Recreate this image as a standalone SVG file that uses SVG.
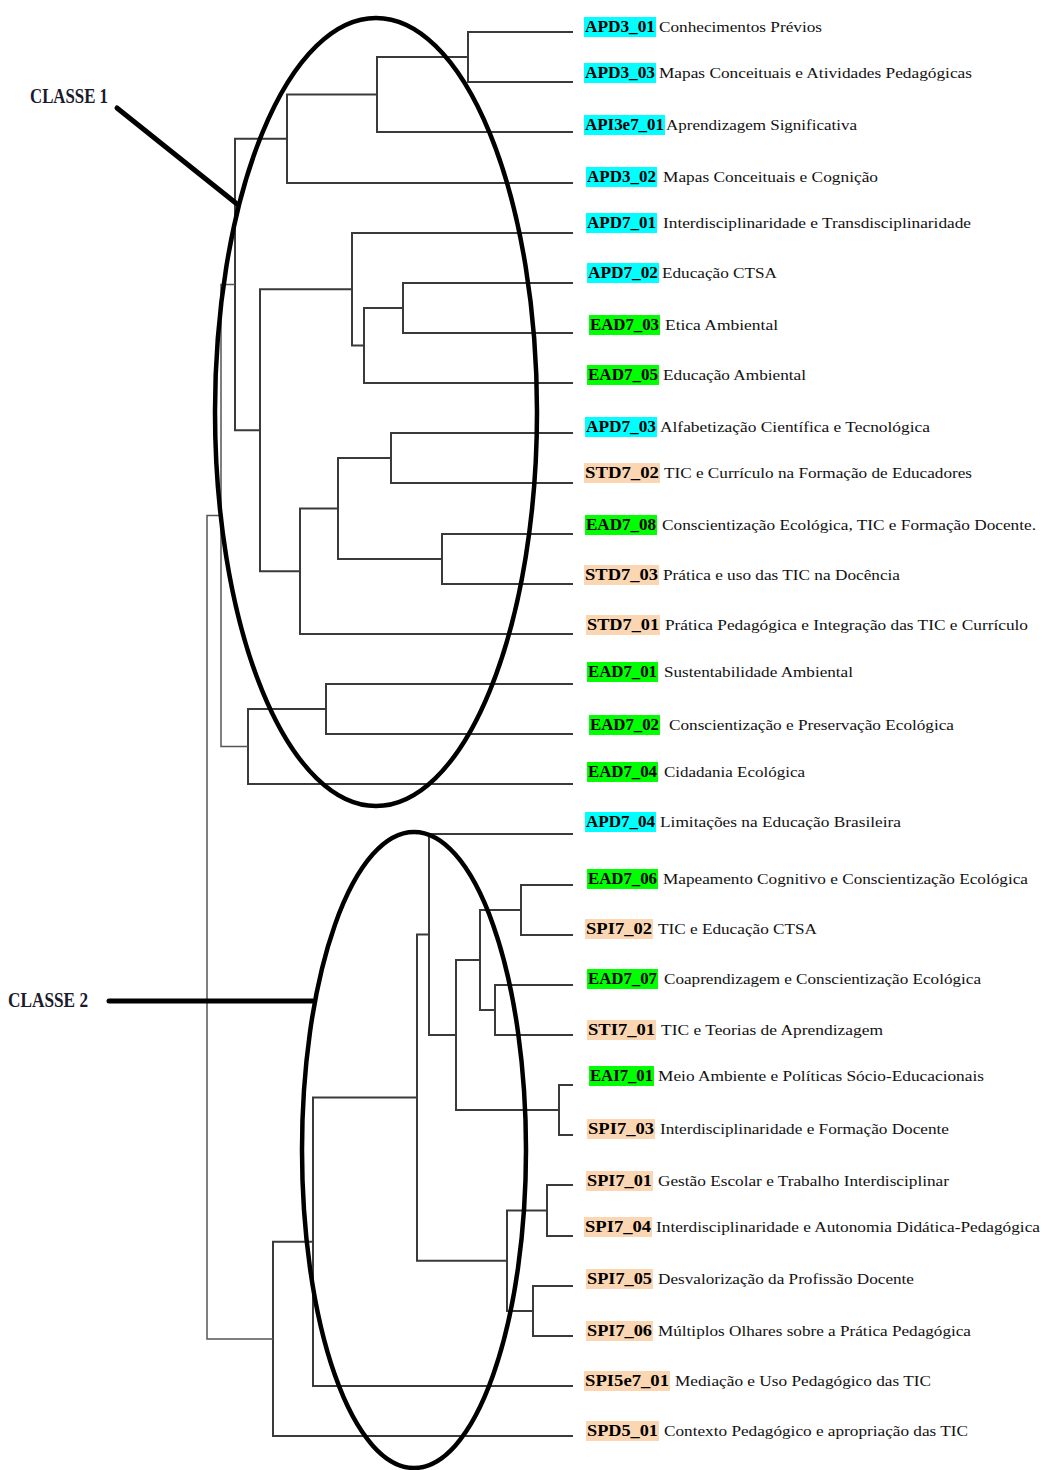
<svg xmlns="http://www.w3.org/2000/svg" width="1043" height="1470" viewBox="0 0 1043 1470">
  <style>
    .br { fill: none; stroke: #3a3a3a; stroke-width: 2; stroke-linecap: square; }
    .br2 { fill: none; stroke: #555; stroke-width: 1.5; }
    .cls { fill: none; stroke: #000; stroke-width: 4.5; }
    .ptr { fill: none; stroke: #000; stroke-width: 5; stroke-linecap: round; }
    .code { font-family: "Liberation Serif", "Times New Roman", serif; font-weight: bold; font-size: 16px; fill: #000; }
    .desc { font-family: "Liberation Serif", "Times New Roman", serif; font-size: 15.5px; fill: #111; }
    .ttl { font-family: "Liberation Serif", "Times New Roman", serif; font-weight: bold; font-size: 22px; fill: #1a1a2a; }
    .cy { fill: #00ffff; }
    .gr { fill: #00ff00; }
    .pe { fill: #fbd6b3; }
  </style>

  <!-- dendrogram branches: each path is one merge bracket -->
  <g id="connectors">
    <path class="br" d="M572 32 H468 V82 H572"/>
    <path class="br" d="M468 57 H377 V132 H572"/>
    <path class="br" d="M377 94.5 H287 V183 H572"/>
    <path class="br" d="M572 283 H403 V333 H572"/>
    <path class="br" d="M403 308 H364 V383 H572"/>
    <path class="br" d="M572 233 H352 V345.5 H364"/>
    <path class="br" d="M572 433 H391 V483 H572"/>
    <path class="br" d="M572 534 H442 V584 H572"/>
    <path class="br" d="M391 458 H338 V559 H442"/>
    <path class="br" d="M338 508.5 H300 V634 H572"/>
    <path class="br" d="M352 289.25 H260 V571.25 H300"/>
    <path class="br" d="M287 138.75 H235 V430.25 H260"/>
    <path class="br" d="M572 684 H326 V734 H572"/>
    <path class="br" d="M326 709 H248 V784 H572"/>
    <path class="br2" d="M235 284.5 H221 V746.5 H248"/>
    <path class="br" d="M572 885 H521 V935 H572"/>
    <path class="br" d="M572 985 H495 V1035 H572"/>
    <path class="br" d="M521 910 H480 V1010 H495"/>
    <path class="br" d="M572 1085 H559 V1135 H572"/>
    <path class="br" d="M480 960 H456 V1110 H559"/>
    <path class="br" d="M572 834 H429 V1035 H456"/>
    <path class="br" d="M572 1185 H547 V1236 H572"/>
    <path class="br" d="M572 1286 H533 V1336 H572"/>
    <path class="br" d="M547 1210.5 H507 V1311 H533"/>
    <path class="br" d="M429 934.5 H417 V1260.75 H507"/>
    <path class="br" d="M417 1097.6 H313 V1386 H572"/>
    <path class="br" d="M313 1241.8 H273 V1436 H572"/>
    <path class="br2" d="M221 515.5 H207 V1338.9 H273"/>
  </g>

  <!-- class outlines and their pointers -->
  <g id="classe1">
    <ellipse class="cls" cx="376" cy="412" rx="161" ry="394"/>
    <path class="ptr" d="M117 108 L237 204"/>
    <text class="ttl" x="30" y="103" textLength="78" lengthAdjust="spacingAndGlyphs">CLASSE 1</text>
  </g>
  <g id="classe2">
    <ellipse class="cls" cx="414" cy="1150" rx="112" ry="318"/>
    <path class="ptr" d="M109 1001 H314"/>
    <text class="ttl" x="8" y="1007" textLength="80" lengthAdjust="spacingAndGlyphs">CLASSE 2</text>
  </g>

  <!-- leaf labels -->
  <g id="APD3_01"><rect class="cy" x="584" y="17" width="72" height="20"/><text class="code" x="585" y="32" textLength="70" lengthAdjust="spacingAndGlyphs">APD3_01</text><text class="desc" x="659" y="32" textLength="163" lengthAdjust="spacingAndGlyphs">Conhecimentos Prévios</text></g>
  <g id="APD3_03"><rect class="cy" x="584" y="63" width="72" height="20"/><text class="code" x="585" y="78" textLength="70" lengthAdjust="spacingAndGlyphs">APD3_03</text><text class="desc" x="659" y="78" textLength="313" lengthAdjust="spacingAndGlyphs">Mapas Conceituais e Atividades Pedagógicas</text></g>
  <g id="API3e7_01"><rect class="cy" x="584" y="115" width="81" height="20"/><text class="code" x="585" y="130" textLength="79" lengthAdjust="spacingAndGlyphs">API3e7_01</text><text class="desc" x="666" y="130" textLength="191" lengthAdjust="spacingAndGlyphs">Aprendizagem Significativa</text></g>
  <g id="APD3_02"><rect class="cy" x="586" y="167" width="71" height="20"/><text class="code" x="587" y="182" textLength="69" lengthAdjust="spacingAndGlyphs">APD3_02</text><text class="desc" x="663" y="182" textLength="215" lengthAdjust="spacingAndGlyphs">Mapas Conceituais e Cognição</text></g>
  <g id="APD7_01"><rect class="cy" x="586" y="213" width="71" height="20"/><text class="code" x="587" y="228" textLength="69" lengthAdjust="spacingAndGlyphs">APD7_01</text><text class="desc" x="663" y="228" textLength="308" lengthAdjust="spacingAndGlyphs">Interdisciplinaridade e Transdisciplinaridade</text></g>
  <g id="APD7_02"><rect class="cy" x="587" y="263" width="72" height="20"/><text class="code" x="588" y="278" textLength="70" lengthAdjust="spacingAndGlyphs">APD7_02</text><text class="desc" x="662" y="278" textLength="115" lengthAdjust="spacingAndGlyphs">Educação CTSA</text></g>
  <g id="EAD7_03"><rect class="gr" x="589" y="315" width="71" height="20"/><text class="code" x="590" y="330" textLength="69" lengthAdjust="spacingAndGlyphs">EAD7_03</text><text class="desc" x="665" y="330" textLength="113" lengthAdjust="spacingAndGlyphs">Etica Ambiental</text></g>
  <g id="EAD7_05"><rect class="gr" x="587" y="365" width="72" height="20"/><text class="code" x="588" y="380" textLength="70" lengthAdjust="spacingAndGlyphs">EAD7_05</text><text class="desc" x="663" y="380" textLength="143" lengthAdjust="spacingAndGlyphs">Educação Ambiental</text></g>
  <g id="APD7_03"><rect class="cy" x="585" y="417" width="72" height="20"/><text class="code" x="586" y="432" textLength="70" lengthAdjust="spacingAndGlyphs">APD7_03</text><text class="desc" x="660" y="432" textLength="270" lengthAdjust="spacingAndGlyphs">Alfabetização Científica e Tecnológica</text></g>
  <g id="STD7_02"><rect class="pe" x="584" y="463" width="76" height="20"/><text class="code" x="585" y="478" textLength="74" lengthAdjust="spacingAndGlyphs">STD7_02</text><text class="desc" x="664" y="478" textLength="308" lengthAdjust="spacingAndGlyphs">TIC e Currículo na Formação de Educadores</text></g>
  <g id="EAD7_08"><rect class="gr" x="585" y="515" width="72" height="20"/><text class="code" x="586" y="530" textLength="70" lengthAdjust="spacingAndGlyphs">EAD7_08</text><text class="desc" x="662" y="530" textLength="374" lengthAdjust="spacingAndGlyphs">Conscientização Ecológica, TIC e Formação Docente.</text></g>
  <g id="STD7_03"><rect class="pe" x="584" y="565" width="75" height="20"/><text class="code" x="585" y="580" textLength="73" lengthAdjust="spacingAndGlyphs">STD7_03</text><text class="desc" x="663" y="580" textLength="237" lengthAdjust="spacingAndGlyphs">Prática e uso das TIC na Docência</text></g>
  <g id="STD7_01"><rect class="pe" x="586" y="615" width="74" height="20"/><text class="code" x="587" y="630" textLength="72" lengthAdjust="spacingAndGlyphs">STD7_01</text><text class="desc" x="665" y="630" textLength="363" lengthAdjust="spacingAndGlyphs">Prática Pedagógica e Integração das TIC e Currículo</text></g>
  <g id="EAD7_01"><rect class="gr" x="587" y="662" width="71" height="20"/><text class="code" x="588" y="677" textLength="69" lengthAdjust="spacingAndGlyphs">EAD7_01</text><text class="desc" x="664" y="677" textLength="189" lengthAdjust="spacingAndGlyphs">Sustentabilidade Ambiental</text></g>
  <g id="EAD7_02"><rect class="gr" x="589" y="715" width="71" height="20"/><text class="code" x="590" y="730" textLength="69" lengthAdjust="spacingAndGlyphs">EAD7_02</text><text class="desc" x="669" y="730" textLength="285" lengthAdjust="spacingAndGlyphs">Conscientização e Preservação Ecológica</text></g>
  <g id="EAD7_04"><rect class="gr" x="587" y="762" width="71" height="20"/><text class="code" x="588" y="777" textLength="69" lengthAdjust="spacingAndGlyphs">EAD7_04</text><text class="desc" x="664" y="777" textLength="141" lengthAdjust="spacingAndGlyphs">Cidadania Ecológica</text></g>
  <g id="APD7_04"><rect class="cy" x="585" y="812" width="71" height="20"/><text class="code" x="586" y="827" textLength="69" lengthAdjust="spacingAndGlyphs">APD7_04</text><text class="desc" x="660" y="827" textLength="241" lengthAdjust="spacingAndGlyphs">Limitações na Educação Brasileira</text></g>
  <g id="EAD7_06"><rect class="gr" x="587" y="869" width="71" height="20"/><text class="code" x="588" y="884" textLength="69" lengthAdjust="spacingAndGlyphs">EAD7_06</text><text class="desc" x="663" y="884" textLength="365" lengthAdjust="spacingAndGlyphs">Mapeamento Cognitivo e Conscientização Ecológica</text></g>
  <g id="SPI7_02"><rect class="pe" x="585" y="919" width="68" height="20"/><text class="code" x="586" y="934" textLength="66" lengthAdjust="spacingAndGlyphs">SPI7_02</text><text class="desc" x="658" y="934" textLength="159" lengthAdjust="spacingAndGlyphs">TIC e Educação CTSA</text></g>
  <g id="EAD7_07"><rect class="gr" x="587" y="969" width="71" height="20"/><text class="code" x="588" y="984" textLength="69" lengthAdjust="spacingAndGlyphs">EAD7_07</text><text class="desc" x="664" y="984" textLength="317" lengthAdjust="spacingAndGlyphs">Coaprendizagem e Conscientização Ecológica</text></g>
  <g id="STI7_01"><rect class="pe" x="587" y="1020" width="69" height="20"/><text class="code" x="588" y="1035" textLength="67" lengthAdjust="spacingAndGlyphs">STI7_01</text><text class="desc" x="661" y="1035" textLength="222" lengthAdjust="spacingAndGlyphs">TIC e Teorias de Aprendizagem</text></g>
  <g id="EAI7_01"><rect class="gr" x="589" y="1066" width="65" height="20"/><text class="code" x="590" y="1081" textLength="63" lengthAdjust="spacingAndGlyphs">EAI7_01</text><text class="desc" x="658" y="1081" textLength="326" lengthAdjust="spacingAndGlyphs">Meio Ambiente e Políticas Sócio-Educacionais</text></g>
  <g id="SPI7_03"><rect class="pe" x="587" y="1119" width="68" height="20"/><text class="code" x="588" y="1134" textLength="66" lengthAdjust="spacingAndGlyphs">SPI7_03</text><text class="desc" x="660" y="1134" textLength="289" lengthAdjust="spacingAndGlyphs">Interdisciplinaridade e Formação Docente</text></g>
  <g id="SPI7_01"><rect class="pe" x="586" y="1171" width="67" height="20"/><text class="code" x="587" y="1186" textLength="65" lengthAdjust="spacingAndGlyphs">SPI7_01</text><text class="desc" x="658" y="1186" textLength="291" lengthAdjust="spacingAndGlyphs">Gestão Escolar e Trabalho Interdisciplinar</text></g>
  <g id="SPI7_04"><rect class="pe" x="584" y="1217" width="68" height="20"/><text class="code" x="585" y="1232" textLength="66" lengthAdjust="spacingAndGlyphs">SPI7_04</text><text class="desc" x="656" y="1232" textLength="384" lengthAdjust="spacingAndGlyphs">Interdisciplinaridade e Autonomia Didática-Pedagógica</text></g>
  <g id="SPI7_05"><rect class="pe" x="586" y="1269" width="67" height="20"/><text class="code" x="587" y="1284" textLength="65" lengthAdjust="spacingAndGlyphs">SPI7_05</text><text class="desc" x="658" y="1284" textLength="256" lengthAdjust="spacingAndGlyphs">Desvalorização da Profissão Docente</text></g>
  <g id="SPI7_06"><rect class="pe" x="586" y="1321" width="67" height="20"/><text class="code" x="587" y="1336" textLength="65" lengthAdjust="spacingAndGlyphs">SPI7_06</text><text class="desc" x="658" y="1336" textLength="313" lengthAdjust="spacingAndGlyphs">Múltiplos Olhares sobre a Prática Pedagógica</text></g>
  <g id="SPI5e7_01"><rect class="pe" x="584" y="1371" width="86" height="20"/><text class="code" x="585" y="1386" textLength="84" lengthAdjust="spacingAndGlyphs">SPI5e7_01</text><text class="desc" x="675" y="1386" textLength="256" lengthAdjust="spacingAndGlyphs">Mediação e Uso Pedagógico das TIC</text></g>
  <g id="SPD5_01"><rect class="pe" x="586" y="1421" width="73" height="20"/><text class="code" x="587" y="1436" textLength="71" lengthAdjust="spacingAndGlyphs">SPD5_01</text><text class="desc" x="664" y="1436" textLength="304" lengthAdjust="spacingAndGlyphs">Contexto Pedagógico e apropriação das TIC</text></g>
</svg>
